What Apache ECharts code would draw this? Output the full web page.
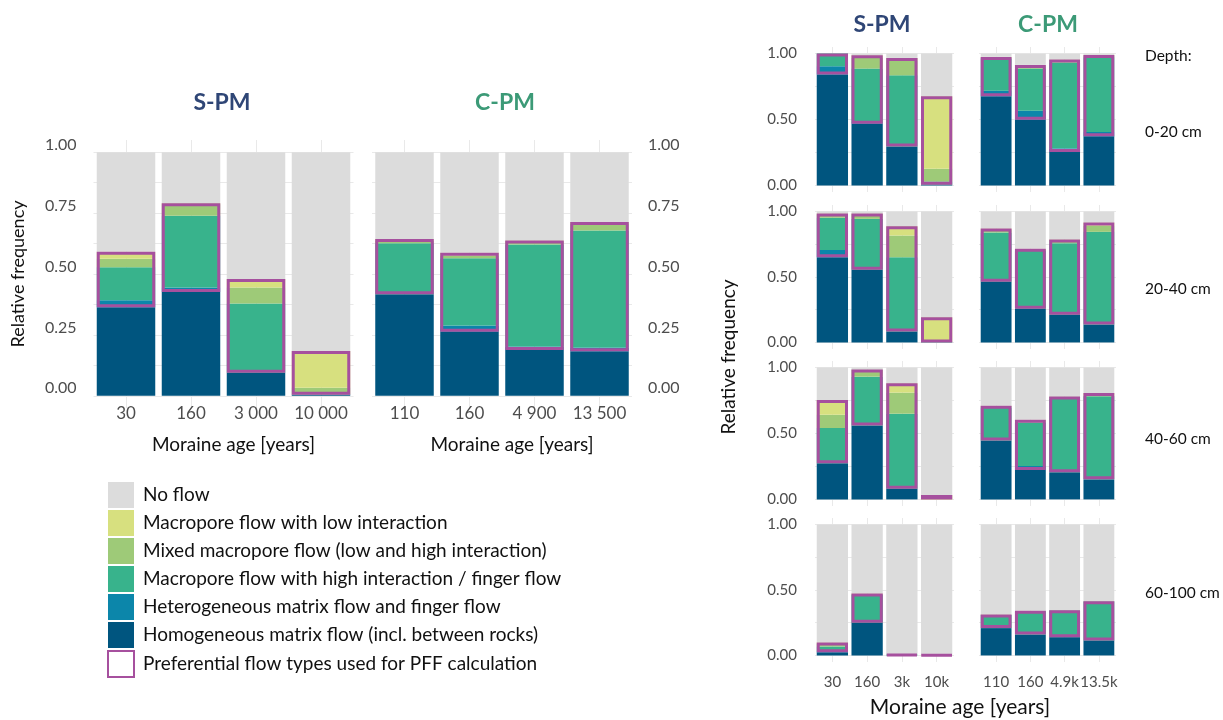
<!DOCTYPE html>
<html><head><meta charset="utf-8">
<script src="https://cdn.jsdelivr.net/npm/echarts@6/dist/echarts.min.js"></script>
<style>html,body{margin:0;padding:0;background:#fff}#c{width:1223px;height:720px}</style>
</head><body><div id="c"></div><script>
// ---------- names & labels ----------
const flowTypes = [
  'Homogeneous matrix flow (incl. between rocks)',
  'Heterogeneous matrix flow and finger flow',
  'Macropore flow with high interaction / finger flow',
  'Mixed macropore flow (low and high interaction)',
  'Macropore flow with low interaction'
];
const noFlowName = 'No flow';
const pffName = 'Preferential flow types used for PFF calculation';
const spmAgesLong = ['30', '160', '3 000', '10 000'];
const cpmAgesLong = ['110', '160', '4 900', '13 500'];
const spmAgesShort = ['30', '160', '3k', '10k'];
const cpmAgesShort = ['110', '160', '4.9k', '13.5k'];
const depthLabels = ['0-20 cm', '20-40 cm', '40-60 cm', '60-100 cm'];
const leftTicks = [0, 0.125, 0.25, 0.375, 0.5, 0.625, 0.75, 0.875, 1];
const leftTickLabels = [0, 0.25, 0.5, 0.75, 1];
const rightTicks = [0, 0.25, 0.5, 0.75, 1];
const rightTickLabels = [0, 0.5, 1];

// ---------- data (relative frequency per flow type) ----------
// rows: homogeneous, heterogeneous, macropore high, mixed, macropore low ; columns: 4 moraines
const spmAll   = [[0.364,0.426,0.095,0.004],[0.028,0.019,0,0],[0.136,0.294,0.284,0.002],[0.035,0.047,0.066,0.027],[0.028,0.004,0.034,0.151]];
const cpmAll   = [[0.417,0.263,0.188,0.183],[0,0.026,0.014,0.015],[0.209,0.276,0.419,0.481],[0.011,0.011,0.013,0.026],[0.007,0.011,0.004,0.008]];
const spm0_20  = [[0.841,0.468,0.296,0.005],[0.063,0.012,0,0],[0.096,0.406,0.539,0.025],[0,0.081,0.114,0.097],[0,0.020,0.018,0.549]];
const cpm0_20  = [[0.676,0.499,0.253,0.372],[0.043,0.068,0.028,0.033],[0.243,0.319,0.651,0.567],[0.005,0.018,0.020,0.013],[0.008,0.010,0.003,0.005]];
const spm20_40 = [[0.651,0.555,0.084,0],[0.056,0,0,0],[0.245,0.389,0.567,0.005],[0.028,0.038,0.166,0.005],[0.005,0.003,0.071,0.183]];
const cpm20_40 = [[0.463,0.257,0.211,0.137],[0,0,0,0],[0.377,0.443,0.547,0.708],[0.018,0.008,0.026,0.046],[0.012,0.007,0.003,0.025]];
const spm40_60 = [[0.274,0.561,0.081,0],[0,0,0,0],[0.267,0.370,0.569,0],[0.101,0.054,0.160,0],[0.112,0,0.071,0.033]];
const cpm40_60 = [[0.447,0.223,0.206,0.152],[0,0.031,0,0],[0.251,0.330,0.558,0.630],[0.010,0.008,0.015,0.003],[0.002,0.012,0.001,0.022]];
const spm60_100= [[0.025,0.249,0,0],[0.005,0,0,0],[0.039,0.217,0.008,0],[0.018,0,0,0],[0.012,0.007,0,0.004]];
const cpm60_100= [[0.209,0.160,0.140,0.115],[0,0,0,0],[0.101,0.178,0.204,0.297],[0,0.003,0.002,0.003],[0.003,0,0,0]];

// ---------- styles ----------
const flowColors = ['#00557f', '#0c86aa', '#38b38c', '#9eca78', '#d7e07f'];
const noFlowColor = '#dcdcdc';
const pffColor = '#a6509e';
const gridLine = '#e9e9e9';
const labelGrey = '#4d4d4d';
const FONT = 'Lato';

const grids = [], xAxes = [], yAxes = [], series = [];

function addPanel(data, cats, rect, opts) {
  const gi = grids.length;
  grids.push({left: rect[0], top: rect[1], width: rect[2], height: rect[3], containLabel: false});
  xAxes.push({
    gridIndex: gi, type: 'category', data: cats, boundaryGap: true,
    axisLine: {show: false},
    axisTick: {show: false, alignWithLabel: true},
    splitLine: {show: true, alignWithLabel: true, lineStyle: {color: gridLine, width: 1}},
    axisLabel: {show: !!opts.showX, margin: opts.xMargin || 8, interval: 0,
      color: labelGrey, fontSize: opts.xFont || 15, fontFamily: FONT},
    name: opts.xName || '', nameLocation: 'middle', nameGap: opts.xNameGap || 30,
    nameTextStyle: {color: '#111', fontSize: 19, fontFamily: FONT, padding: [0, 0, 0, 20]}
  });
  yAxes.push({
    gridIndex: gi, type: 'value', min: -0.05, max: 1.05,
    position: opts.yPos || 'left',
    axisLine: {show: false},
    axisTick: {show: false, customValues: opts.ticks},
    splitLine: {show: true, lineStyle: {color: gridLine, width: 1}},
    axisLabel: {show: !!opts.yLabels, customValues: opts.labelTicks, margin: opts.yMargin || 10,
      color: labelGrey, fontSize: opts.yFont || 15, fontFamily: FONT,
      verticalAlign: opts.yVAlign || 'middle', lineHeight: opts.yLineHeight || 16,
      formatter: v => v.toFixed(2)},
    name: opts.yName || '', nameLocation: 'middle', nameGap: opts.yNameGap || 50, nameRotate: 90,
    nameTextStyle: {color: '#111', fontSize: 18, fontFamily: FONT}
  });
  const common = {type: 'bar', xAxisIndex: gi, yAxisIndex: gi, barWidth: '90%', barGap: '-100%', silent: true, animation: false};
  data.forEach((row, k) => {
    series.push(Object.assign({}, common, {
      name: flowTypes[k], stack: 'flow' + gi,
      itemStyle: {color: flowColors[k]},
      data: row.slice()
    }));
  });
  const totals = cats.map((c, i) => data.reduce((s, row) => s + row[i], 0));
  series.push(Object.assign({}, common, {
    name: noFlowName, stack: 'flow' + gi, itemStyle: {color: noFlowColor},
    data: totals.map(t => Math.max(0, 1 - t))
  }));
  // outline of the preferential flow types (heterogeneous .. macropore low)
  series.push(Object.assign({}, common, {
    name: '_base', stack: 'pff' + gi, itemStyle: {color: 'rgba(0,0,0,0)'},
    data: data[0].slice()
  }));
  series.push(Object.assign({}, common, {
    name: pffName, stack: 'pff' + gi,
    itemStyle: {color: 'rgba(255,255,255,0)', borderColor: pffColor, borderWidth: 3},
    data: cats.map((c, i) => data[1][i] + data[2][i] + data[3][i] + data[4][i])
  }));
}

// left: overall panels
addPanel(spmAll, spmAgesLong, [93.5, 140, 260, 268], {showX: true, xFont: 17, xName: 'Moraine age [years]', xNameGap: 27, xMargin: -3,
  yLabels: true, ticks: leftTicks, labelTicks: leftTickLabels, yMargin: 17, yFont: 16, yVAlign: 'bottom', yLineHeight: 15,
  yName: 'Relative frequency', yNameGap: 66});
addPanel(cpmAll, cpmAgesLong, [372, 140, 260, 268], {showX: true, xFont: 17, xName: 'Moraine age [years]', xNameGap: 27, xMargin: -3,
  yLabels: true, yPos: 'right', ticks: leftTicks, labelTicks: leftTickLabels, yMargin: 16, yFont: 16, yVAlign: 'bottom', yLineHeight: 15});

// right: by depth
const depthData = [[spm0_20, cpm0_20], [spm20_40, cpm20_40], [spm40_60, cpm40_60], [spm60_100, cpm60_100]];
const rowRects = [[47, 145], [205, 144], [361, 145], [518, 144]];
depthData.forEach((pair, r) => {
  const last = r === 3;
  addPanel(pair[0], spmAgesShort, [815, rowRects[r][0], 139, rowRects[r][1]], {
    showX: last, xMargin: 13, yLabels: true, ticks: rightTicks, labelTicks: rightTickLabels,
    yMargin: 18, yFont: 15});
  addPanel(pair[1], cpmAgesShort, [979, rowRects[r][0], 137, rowRects[r][1]], {
    showX: last, xMargin: 13, yLabels: false, ticks: rightTicks, labelTicks: rightTickLabels});
});

const T = (text, left, top, extra) => Object.assign({text, left, top, padding: 0,
  textStyle: Object.assign({color: '#111', fontSize: 16, fontWeight: 'normal', fontFamily: FONT}, extra || {})});
const titles = [
  Object.assign(T('S-PM', 222, 91, {color: '#2f4676', fontSize: 23, fontWeight: 'bold'}), {textAlign: 'center'}),
  Object.assign(T('C-PM', 505, 91, {color: '#3c9a77', fontSize: 23, fontWeight: 'bold'}), {textAlign: 'center'}),
  Object.assign(T('S-PM', 882, 13, {color: '#2f4676', fontSize: 23, fontWeight: 'bold'}), {textAlign: 'center'}),
  Object.assign(T('C-PM', 1048, 13, {color: '#3c9a77', fontSize: 23, fontWeight: 'bold'}), {textAlign: 'center'}),
  T('Depth:', 1145, 48, {fontSize: 15.5}),
  Object.assign(T('Moraine age [years]', 960, 697, {fontSize: 21}), {textAlign: 'center'})
];
const depthTops = [124, 281, 431, 585];
depthLabels.forEach((d, i) => titles.push(T(d, 1145, depthTops[i], {fontSize: 15.5})));

const chart = echarts.init(document.getElementById('c'), null, {renderer: 'canvas'});
chart.setOption({
  backgroundColor: '#fff',
  animation: false,
  textStyle: {fontFamily: FONT},
  title: titles,
  grid: grids, xAxis: xAxes, yAxis: yAxes, series: series,
  legend: {
    orient: 'vertical', left: 102, top: 477, itemWidth: 26, itemHeight: 26, itemGap: 2,
    icon: 'rect', selectedMode: false,
    data: [noFlowName, flowTypes[4], flowTypes[3], flowTypes[2], flowTypes[1], flowTypes[0], pffName],
    textStyle: {color: '#111', fontSize: 19, fontFamily: FONT, padding: [0, 0, 0, 4]}
  },
  graphic: [{type: 'text', x: 729, y: 357, rotation: Math.PI / 2,
    style: {text: 'Relative frequency', fontSize: 19, fontFamily: FONT, fill: '#111', align: 'center', verticalAlign: 'middle'}}]
});
</script></body></html>
